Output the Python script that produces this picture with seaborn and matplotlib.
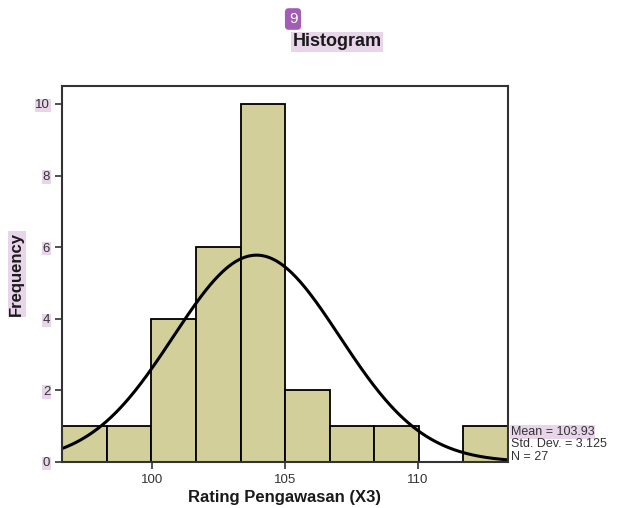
import numpy as np
import pandas as pd
import matplotlib
matplotlib.use("Agg")
import matplotlib.pyplot as plt
import seaborn as sns

# histogram bins
bin_edges = [96.62, 98.30, 99.98, 101.65, 103.33, 105.0, 106.68, 108.36, 110.03, 111.70, 113.38]
counts = [1, 1, 4, 6, 10, 2, 1, 1, 0, 1]
mean_val = 103.93
std_val = 3.125
n_val = 27

sns.set_theme(style="white")
plt.rcParams['font.family'] = ['Liberation Sans', 'DejaVu Sans']

centers = [(a + b) / 2 for a, b in zip(bin_edges[:-1], bin_edges[1:])]
df = pd.DataFrame({"x": centers, "w": counts})

fig = plt.figure(figsize=(6.22, 5.08), dpi=100)
ax = fig.add_axes([62/622, 46/508, 446/622, 376/508])

sns.histplot(data=df, x="x", weights="w", bins=bin_edges, color="#D3CF9A",
             edgecolor="black", linewidth=1.3, alpha=1, ax=ax)

# normal curve
xs = np.linspace(bin_edges[0], bin_edges[-1], 300)
bw = (bin_edges[-1] - bin_edges[0]) / len(counts)
ys = n_val * bw * np.exp(-0.5 * ((xs - mean_val) / std_val) ** 2) / (std_val * np.sqrt(2 * np.pi))
sns.lineplot(x=xs, y=ys, color="black", linewidth=2.2, ax=ax)

ax.set_xlim(bin_edges[0], bin_edges[-1])
ax.set_ylim(0, 10.5)
ax.set_xticks([100, 105, 110])
ax.set_yticks([0, 2, 4, 6, 8, 10])
ax.tick_params(axis="both", which="major", length=5, width=1.2, color="#333333",
               labelsize=9.5, labelcolor="#333333", bottom=True, left=True, direction="out")
for sp in ax.spines.values():
    sp.set_color("#333333")
    sp.set_linewidth(1.5)

ax.set_xlabel("Rating Pengawasan (X3)", fontsize=12, fontweight="bold", color="#1a1a1a", labelpad=3)
ax.set_ylabel("Frequency", fontsize=12, fontweight="bold", color="#1a1a1a", labelpad=8,
              bbox=dict(facecolor="#E8D5EA", edgecolor="none", pad=1))
for lab in ax.get_yticklabels():
    lab.set_bbox(dict(facecolor="#E8D5EA", edgecolor="none", pad=0.5))

hl = dict(facecolor="#E8D5EA", edgecolor="none", pad=0.5)
fig.text(511/622, 1 - 432/508, "Mean = 103.93", fontsize=9, color="#333333", va="center", bbox=hl)
fig.text(511/622, 1 - 444/508, "Std. Dev. = 3.125", fontsize=9, color="#333333", va="center")
fig.text(511/622, 1 - 457/508, "N = 27", fontsize=9, color="#333333", va="center")

fig.text(337/622, 1 - 42/508, "Histogram", fontsize=13, fontweight="bold", color="#1a1a1a",
         ha="center", va="center", bbox=dict(facecolor="#E8D5EA", edgecolor="none", pad=1))
fig.text(293/622, 1 - 19/508, "9", fontsize=11, color="white", ha="center", va="center",
         bbox=dict(boxstyle="round,pad=0.25", facecolor="#A45DB5", edgecolor="none"))

fig.savefig("out.png", dpi=100)
